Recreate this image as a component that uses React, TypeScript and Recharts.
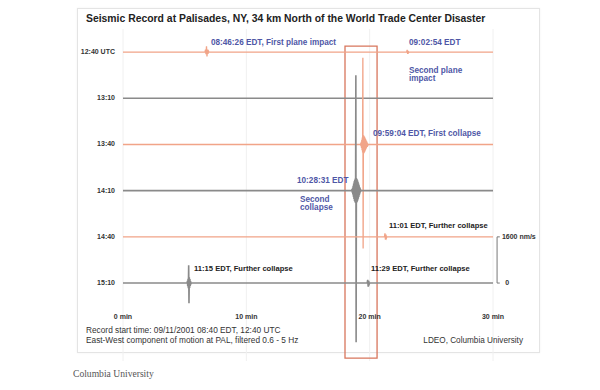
import {
  ComposedChart,
  Line,
  XAxis,
  YAxis,
  CartesianGrid,
  ReferenceArea,
  ReferenceLine,
  ReferenceDot,
} from "recharts";

// one trace per 30 minute window, stacked 1600 nm/s apart
const traceLabels = ["12:40 UTC", "13:10", "13:40", "14:10", "14:40", "15:10"];
const traceOffsets = [8000, 6400, 4800, 3200, 1600, 0];
const traceKinds = ["orange", "gray", "orange", "gray", "orange", "gray"];
const minuteTicks = [0, 10, 20, 30];

// ground motion bursts (nm/s)
const firstPlane = [0, 90, -70, 200, -150, 90, -60, 30, 0];
const secondPlane = [0, 80, -60, 40, -20, 0];
const firstCollapse = [
  0, 40, -60, 90, -120, 160, -200, 240, -280, 3000, -3600, 320, -310, 300, -290, 270, -250, 230,
  -210, 190, -170, 150, -130, 110, -90, 70, -50, 30, -20, 0,
];
const secondCollapse = [
  0, 50, -70, 100, -130, 170, -210, 250, -290, 330, -360, 380, -400, 420, -430, 4000, -5250, 440,
  -420, 400, -380, 360, -340, 310, -280, 250, -220, 190, -160, 130, -100, 70, -40, 20, 0,
];
const collapse1101 = [0, 120, -100, 80, -40, 0];
const collapse1115 = [0, 80, -110, 150, -180, 620, -700, 200, -170, 140, -100, 70, -40, 0];
const collapse1129 = [0, 110, -130, 80, -40, 0];

// trace index, start minute, sample step (min)
const bursts = [
  { trace: 0, start: 6.65, step: 0.04, amps: firstPlane },
  { trace: 0, start: 23.0, step: 0.04, amps: secondPlane },
  { trace: 2, start: 19.25, step: 0.022, amps: firstCollapse },
  { trace: 3, start: 18.55, step: 0.022, amps: secondCollapse },
  { trace: 4, start: 21.2, step: 0.04, amps: collapse1101 },
  { trace: 5, start: 5.2, step: 0.025, amps: collapse1115 },
  { trace: 5, start: 19.8, step: 0.04, amps: collapse1129 },
];

const traces = traceOffsets.map((offset, i) => {
  const pts = [{ t: 0, v: offset }];
  bursts
    .filter((b) => b.trace === i)
    .sort((a, b) => a.start - b.start)
    .forEach((b) => b.amps.forEach((a, k) => pts.push({ t: b.start + k * b.step, v: offset + a })));
  pts.push({ t: 30, v: offset });
  return pts;
});

const BLUE = "#4f57a6";
const INK = "#222";

const notes = [
  { t: 7.13, v: 8311, lines: ["08:46:26 EDT, First plane impact"], color: BLUE },
  { t: 23.19, v: 8311, lines: ["09:02:54 EDT"], color: BLUE },
  { t: 23.19, v: 7359, lines: ["Second plane", "impact"], color: BLUE },
  { t: 20.27, v: 5160, lines: ["09:59:04 EDT, First collapse"], color: BLUE },
  { t: 14.11, v: 3532, lines: ["10:28:31 EDT"], color: BLUE },
  { t: 14.35, v: 2874, lines: ["Second", "collapse"], color: BLUE },
  { t: 21.57, v: 1991, lines: ["11:01 EDT, Further collapse"], color: INK },
  { t: 5.76, v: 485, lines: ["11:15 EDT, Further collapse"], color: INK },
  { t: 20.11, v: 485, lines: ["11:29 EDT, Further collapse"], color: INK },
];

const scaleNotes = [
  { t: 30.72, v: 1600, lines: ["1600 nm/s"], color: "#333" },
  { t: 31.0, v: 0, lines: ["0"], color: "#333" },
];

const noteLabel = (lines: string[], color: string, size: number) => (props: any) => {
  const vb = props.viewBox || {};
  return (
    <text x={vb.x} y={vb.y} fill={color} fontSize={size} fontWeight={700} dominantBaseline="middle">
      {lines.map((l, i) => (
        <tspan key={l} x={vb.x} dy={i === 0 ? 0 : 8}>
          {l}
        </tspan>
      ))}
    </text>
  );
};

const TraceTick = (props: any) => {
  const { x, y, payload } = props;
  return (
    <text x={x} y={y} textAnchor="end" dominantBaseline="middle" fontSize={7} fontWeight={700} fill="#333">
      {traceLabels[traceOffsets.indexOf(payload.value)] ?? ""}
    </text>
  );
};

const font = "'Liberation Sans', Arial, Helvetica, sans-serif";

export default function App() {
  return (
    <div style={{ position: "absolute", left: 0, top: 0, width: 600, height: 390, background: "#fff", fontFamily: font }}>
      <div
        style={{
          position: "absolute",
          left: 77,
          top: 8,
          width: 461,
          height: 343,
          border: "1px solid #e4e4e4",
          boxShadow: "0 0 2px rgba(0,0,0,0.06)",
        }}
      />
      <div style={{ position: "absolute", left: 86, top: 13, fontSize: 10.4, fontWeight: 700, color: INK, whiteSpace: "nowrap" }}>
        Seismic Record at Palisades, NY, 34 km North of the World Trade Center Disaster
      </div>
      <div style={{ position: "absolute", left: 0, top: 0 }}>
        <ComposedChart width={600} height={390} margin={{ top: 29, right: 107, bottom: 29, left: 63 }}>
          <CartesianGrid horizontal={false} stroke="#f0f0f0" />
          <XAxis
            dataKey="t"
            type="number"
            domain={[0, 30]}
            ticks={minuteTicks}
            tickFormatter={(m: number) => `${m} min`}
            mirror
            axisLine={false}
            tickLine={false}
            tickMargin={36}
            tick={{ fontSize: 7, fontWeight: 700, fill: "#333" }}
            allowDuplicatedCategory={false}
          />
          <YAxis
            yAxisId="left"
            type="number"
            domain={[-2700, 8800]}
            ticks={traceOffsets}
            width={60}
            interval={0}
            axisLine={false}
            tickLine={false}
            tick={TraceTick}
          />
          {traces.map((pts, i) => (
            <Line
              key={traceLabels[i]}
              yAxisId="left"
              data={pts}
              dataKey="v"
              type="linear"
              dot={false}
              activeDot={false}
              stroke={traceKinds[i] === "orange" ? "#f1a488" : "#8a8a8a"}
              strokeWidth={traceKinds[i] === "orange" ? 1.3 : 1.6}
              isAnimationActive={false}
            />
          ))}
          <ReferenceLine yAxisId="left" segment={[{ x: 30.33, y: 0 }, { x: 30.33, y: 1600 }]} stroke="#777" ifOverflow="visible" />
          <ReferenceLine yAxisId="left" segment={[{ x: 30.33, y: 1600 }, { x: 30.55, y: 1600 }]} stroke="#777" ifOverflow="visible" />
          <ReferenceLine yAxisId="left" segment={[{ x: 30.33, y: 0 }, { x: 30.55, y: 0 }]} stroke="#777" ifOverflow="visible" />
          <ReferenceArea
            yAxisId="left"
            x1={18.0}
            x2={20.6}
            y1={8207}
            y2={-2597}
            fill="none"
            stroke="#d8765c"
            strokeWidth={1.3}
            fillOpacity={0}
            ifOverflow="visible"
          />
          {notes.map((n) => (
            <ReferenceDot
              key={n.lines[0]}
              yAxisId="left"
              x={n.t}
              y={n.v}
              r={0}
              fill="none"
              stroke="none"
              label={noteLabel(n.lines, n.color, n.color === BLUE ? 8.2 : 7.6)}
            />
          ))}
          {scaleNotes.map((n) => (
            <ReferenceDot
              key={n.lines[0]}
              yAxisId="left"
              x={n.t}
              y={n.v}
              r={0}
              fill="none"
              stroke="none"
              ifOverflow="visible"
              label={noteLabel(n.lines, n.color, 7)}
            />
          ))}
        </ComposedChart>
      </div>
      <div style={{ position: "absolute", left: 86, top: 326, fontSize: 8.3, color: "#333", lineHeight: "9.5px", whiteSpace: "nowrap" }}>
        Record start time: 09/11/2001 08:40 EDT, 12:40 UTC
        <br />
        East-West component of motion at PAL, filtered 0.6 - 5 Hz
      </div>
      <div style={{ position: "absolute", right: 600 - 523, top: 335.5, fontSize: 8.2, color: "#333", lineHeight: "9.5px", whiteSpace: "nowrap" }}>
        LDEO, Columbia University
      </div>
      <div style={{ position: "absolute", left: 73, top: 368, fontSize: 9.6, color: "#555", fontFamily: "'Liberation Serif', 'DejaVu Serif', serif", whiteSpace: "nowrap" }}>
        Columbia University
      </div>
    </div>
  );
}
